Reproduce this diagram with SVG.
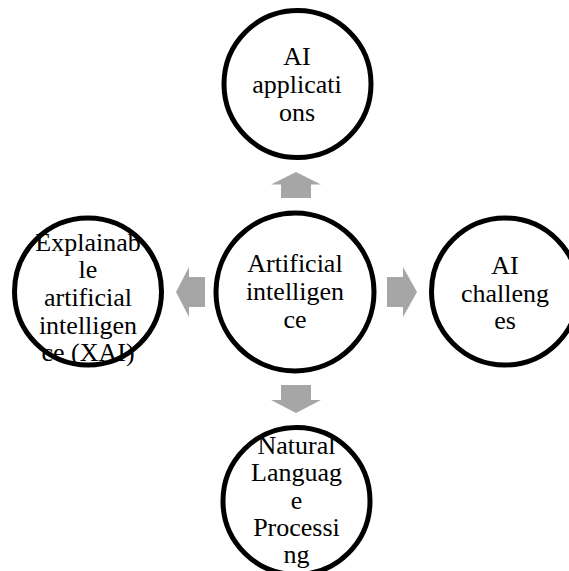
<svg xmlns="http://www.w3.org/2000/svg" width="569" height="571" viewBox="0 0 569 571">
<style>
.node circle{fill:#fff;stroke:#000;stroke-width:5}
.node text{font-family:"Liberation Serif","Times New Roman",serif;font-size:26px;fill:#000;text-anchor:middle}
.arr{fill:#A6A6A6}
</style>
<rect width="569" height="571" fill="#fff"/>
<g id="connectors">
<polygon class="arr" points="296,172 321,184.5 311,184.5 311,198 281,198 281,184.5 271,184.5"/>
<polygon class="arr" points="296,413 321,400 311,400 311,385 281,385 281,400 271,400"/>
<polygon class="arr" points="176,292 189,267 189,277 205,277 205,307 189,307 189,317"/>
<polygon class="arr" points="417,292 403,267 403,277 387,277 387,307 403,307 403,317"/>
</g>
<g id="node-center" class="node">
<circle cx="295" cy="292" r="79"/>
<text x="295" y="272">Artificial</text>
<text x="295" y="300">intelligen</text>
<text x="295" y="328">ce</text>
</g>
<g id="node-top" class="node">
<circle cx="297.5" cy="84" r="73.5"/>
<text x="297" y="64.5">AI</text>
<text x="297" y="92.5">applicati</text>
<text x="297" y="120.5">ons</text>
</g>
<g id="node-left" class="node">
<circle cx="88" cy="291.5" r="73.5"/>
<text x="88" y="250.5">Explainab</text>
<text x="88" y="278">le</text>
<text x="88" y="306">artificial</text>
<text x="88" y="333.5">intelligen</text>
<text x="88" y="361">ce (XAI)</text>
</g>
<g id="node-right" class="node">
<circle cx="505" cy="291.5" r="73.5"/>
<text x="505" y="274">AI</text>
<text x="505" y="301.5">challeng</text>
<text x="505" y="328.5">es</text>
</g>
<g id="node-bottom" class="node">
<circle cx="296.5" cy="501" r="73.5"/>
<text x="296.5" y="453.5">Natural</text>
<text x="296.5" y="481">Languag</text>
<text x="296.5" y="508.5">e</text>
<text x="296.5" y="535.5">Processi</text>
<text x="296.5" y="563">ng</text>
</g>
</svg>
